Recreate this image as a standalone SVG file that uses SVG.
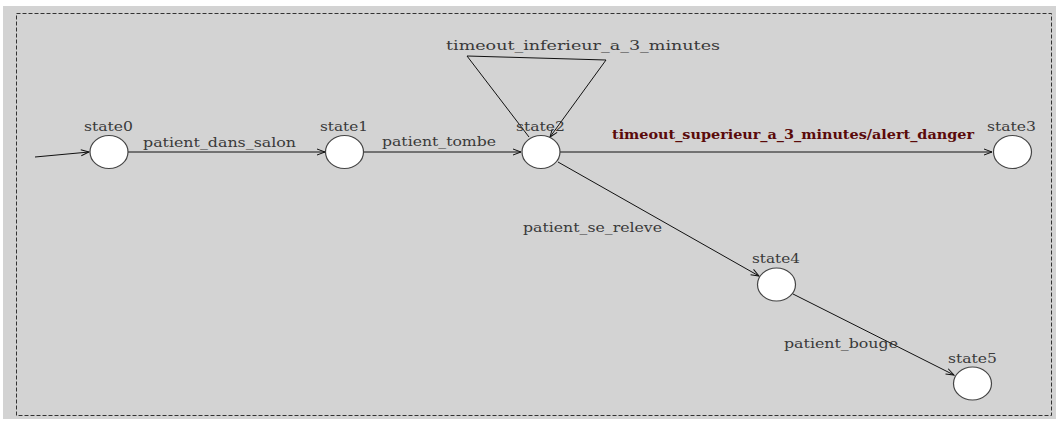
<svg xmlns="http://www.w3.org/2000/svg" width="1059" height="421" viewBox="0 0 1059 421">
<style>
.st{fill:#fff;stroke:#444;stroke-width:1.2}
.lb{font-family:"DejaVu Serif","Liberation Serif",serif;font-size:13px;fill:#3a3a3a}
.ed{fill:none;stroke:#111;stroke-width:1}
.bold{font-family:"DejaVu Serif","Liberation Serif",serif;font-size:13px;font-weight:bold;fill:#5a0a0a}
</style>
<defs>
<marker id="arr" markerUnits="userSpaceOnUse" markerWidth="10" markerHeight="8" refX="9" refY="4" orient="auto">
<path d="M1,1 L9,4 L1,7" fill="none" stroke="#111" stroke-width="1"/>
</marker>
</defs>
<rect x="3" y="6" width="1053" height="413" fill="#d3d3d3"/>
<rect x="16.5" y="13.5" width="1035" height="402" fill="none" stroke="#333" stroke-dasharray="4,2"/>
<g id="connectors">
<path class="ed" d="M35,157 L89,152" marker-end="url(#arr)"/>
<path class="ed" d="M128,152 L325,152" marker-end="url(#arr)"/>
<text class="lb" x="143" y="147" textLength="153" lengthAdjust="spacingAndGlyphs">patient_dans_salon</text>
<path class="ed" d="M363,152 L521,152" marker-end="url(#arr)"/>
<text class="lb" x="382" y="146" textLength="114" lengthAdjust="spacingAndGlyphs">patient_tombe</text>
<path class="ed" d="M529,137 L467,56 L606,60 L550,137" marker-end="url(#arr)"/>
<text class="lb" x="446" y="50" textLength="274" lengthAdjust="spacingAndGlyphs">timeout_inferieur_a_3_minutes</text>
<path class="ed" d="M560,152 L992,152" marker-end="url(#arr)"/>
<text class="bold" x="612" y="139" textLength="362" lengthAdjust="spacingAndGlyphs">timeout_superieur_a_3_minutes/alert_danger</text>
<path class="ed" d="M558,162 L759,276" marker-end="url(#arr)"/>
<text class="lb" x="523" y="232" textLength="139" lengthAdjust="spacingAndGlyphs">patient_se_releve</text>
<path class="ed" d="M793,294 L954,375" marker-end="url(#arr)"/>
<text class="lb" x="784" y="348" textLength="114" lengthAdjust="spacingAndGlyphs">patient_bouge</text>
</g>
<g id="state0"><ellipse class="st" cx="109" cy="152" rx="19" ry="16.5"/><text class="lb" x="84" y="131" textLength="49" lengthAdjust="spacingAndGlyphs">state0</text></g>
<g id="state1"><ellipse class="st" cx="344.5" cy="152" rx="19" ry="16.5"/><text class="lb" x="320" y="131" textLength="48" lengthAdjust="spacingAndGlyphs">state1</text></g>
<g id="state2"><ellipse class="st" cx="541" cy="152" rx="19" ry="16.5"/><text class="lb" x="516" y="131" textLength="49" lengthAdjust="spacingAndGlyphs">state2</text></g>
<g id="state3"><ellipse class="st" cx="1012.5" cy="152" rx="19" ry="16.5"/><text class="lb" x="987" y="131" textLength="49" lengthAdjust="spacingAndGlyphs">state3</text></g>
<g id="state4"><ellipse class="st" cx="776.5" cy="284.5" rx="19" ry="16.5"/><text class="lb" x="752" y="263" textLength="48" lengthAdjust="spacingAndGlyphs">state4</text></g>
<g id="state5"><ellipse class="st" cx="972.5" cy="383.5" rx="19" ry="16.5"/><text class="lb" x="948" y="363" textLength="49" lengthAdjust="spacingAndGlyphs">state5</text></g>
</svg>
